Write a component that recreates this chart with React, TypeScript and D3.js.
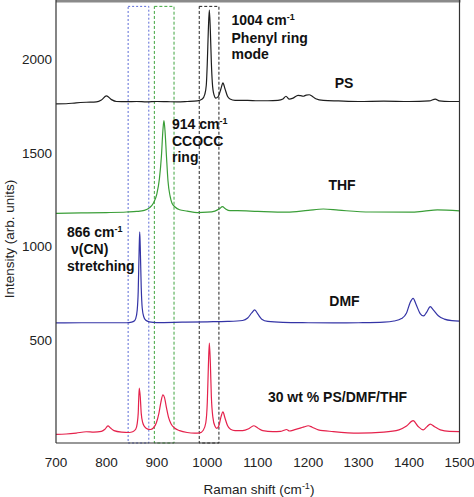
import React from "react";
import * as d3 from "d3";

// Raman shift (cm-1), intensity (arb. units, stacked as plotted)
const PS: [number, number][] = [
  [700, 1759], [720, 1760], [740, 1765], [760, 1768], [780, 1770], [790, 1780], [800, 1802], [810, 1782],
  [820, 1772], [840, 1771], [860, 1772], [880, 1770], [900, 1772], [920, 1771], [940, 1770], [960, 1772],
  [980, 1775], [990, 1785], [995, 1810], [998, 1860], [1000, 1980], [1002, 2150], [1004, 2260], [1006, 2150],
  [1008, 1980], [1010, 1870], [1013, 1810], [1017, 1790], [1022, 1800], [1027, 1840], [1031, 1871], [1035, 1840],
  [1040, 1800], [1045, 1785], [1055, 1778], [1080, 1778], [1100, 1776], [1120, 1776], [1140, 1778], [1150, 1785],
  [1156, 1800], [1162, 1785], [1170, 1790], [1180, 1805], [1185, 1803], [1190, 1800], [1196, 1806], [1202, 1808],
  [1208, 1800], [1215, 1787], [1230, 1778], [1260, 1775], [1300, 1772], [1350, 1774], [1400, 1772], [1440, 1775],
  [1452, 1785], [1460, 1775], [1480, 1772], [1500, 1772],
];

const THF: [number, number][] = [
  [700, 1176], [750, 1178], [800, 1180], [840, 1183], [860, 1186], [875, 1192], [885, 1205], [893, 1230],
  [900, 1280], [905, 1360], [909, 1480], [912, 1620], [914, 1670], [916, 1620], [919, 1480], [922, 1350],
  [926, 1270], [930, 1230], [936, 1210], [945, 1195], [960, 1188], [980, 1180], [1000, 1182], [1015, 1188],
  [1024, 1200], [1030, 1212], [1036, 1200], [1045, 1190], [1060, 1190], [1100, 1186], [1158, 1182], [1200, 1192],
  [1230, 1199], [1260, 1193], [1323, 1183], [1403, 1182], [1430, 1188], [1456, 1194], [1500, 1189],
];

const DMF: [number, number][] = [
  [700, 592], [750, 593], [800, 593], [840, 593], [850, 596], [855, 602], [858, 615], [861, 660],
  [863, 760], [865, 1000], [866, 1078], [867, 1000], [869, 780], [871, 670], [874, 625], [878, 606],
  [885, 598], [900, 594], [950, 596], [1000, 598], [1040, 600], [1070, 605], [1080, 618], [1088, 645],
  [1094, 661], [1100, 640], [1108, 612], [1120, 600], [1150, 595], [1200, 593], [1250, 592], [1300, 593],
  [1350, 596], [1370, 602], [1385, 615], [1395, 645], [1402, 700], [1408, 723], [1414, 690], [1422, 642],
  [1429, 629], [1435, 650], [1442, 679], [1448, 662], [1458, 630], [1470, 612], [1485, 604], [1500, 602],
];

const MIX: [number, number][] = [
  [700, -2], [720, 0], [740, 5], [760, 12], [775, 10], [790, 14], [797, 25], [803, 43],
  [808, 32], [815, 18], [830, 10], [845, 8], [852, 12], [858, 25], [861, 55], [863, 110],
  [865, 245], [867, 200], [869, 110], [872, 60], [876, 38], [882, 26], [887, 24], [893, 32],
  [899, 60], [904, 110], [908, 170], [912, 208], [915, 195], [919, 140], [923, 90], [928, 55],
  [935, 32], [945, 18], [960, 8], [975, 5], [985, 6], [992, 20], [997, 60], [1000, 170],
  [1002, 350], [1004, 485], [1006, 380], [1008, 200], [1011, 90], [1015, 42], [1019, 30], [1023, 45],
  [1027, 90], [1031, 118], [1035, 85], [1040, 45], [1046, 25], [1055, 18], [1070, 18], [1082, 28],
  [1092, 44], [1100, 32], [1110, 18], [1130, 13], [1145, 14], [1152, 20], [1157, 24], [1163, 16],
  [1172, 22], [1184, 31], [1192, 38], [1200, 44], [1208, 36], [1220, 22], [1250, 13], [1300, 5],
  [1350, 10], [1380, 22], [1395, 42], [1408, 71], [1418, 40], [1428, 22], [1435, 38], [1442, 53],
  [1450, 40], [1462, 22], [1480, 14], [1500, 13],
];

const xTicks = [700, 800, 900, 1000, 1100, 1200, 1300, 1400, 1500];
const yTicks = [500, 1000, 1500, 2000];
// highlighted regions (cm-1)
const boxRanges: [number, number][] = [[843, 884], [895, 934], [984, 1023]];
const boxTop = 2279;

const W = 474, H = 497;
const L = 56, R = 459.5, T = 0, B = 443;
const FONT = "'Liberation Sans', Arial, Helvetica, sans-serif";

export default function App() {
  const x = d3.scaleLinear().domain([700, 1500]).range([L, R]);
  const y = d3.scaleLinear().domain([-48, 2313]).range([B, T]);
  const line = d3
    .line<[number, number]>()
    .x((d) => x(d[0]))
    .y((d) => y(d[1]))
    .curve(d3.curveMonotoneX);

  const series = [
    { data: PS, color: "#1e1e1e" },
    { data: THF, color: "#3a9e38" },
    { data: DMF, color: "#3434a6" },
    { data: MIX, color: "#e5224c" },
  ];
  const boxStyles = [
    { color: "#5a6ad6", dash: "2,2" },
    { color: "#3fa53f", dash: "3,2" },
    { color: "#222", dash: "3,2" },
  ];

  const sup = (t: string) => (
    <tspan fontSize={9} dy={-5}>{t}</tspan>
  );

  return (
    <svg
      width={W}
      height={H}
      style={{ position: "absolute", left: 0, top: 0, background: "#fff" }}
      fontFamily={FONT}
    >
      <rect x={0} y={0} width={W} height={H} fill="#fff" />
      {boxRanges.map((r, i) => (
        <rect
          key={i}
          x={x(r[0])}
          y={y(boxTop)}
          width={x(r[1]) - x(r[0])}
          height={B - y(boxTop)}
          fill="none"
          stroke={boxStyles[i].color}
          strokeWidth={1}
          strokeDasharray={boxStyles[i].dash}
        />
      ))}
      {series.map((s, i) => (
        <path key={i} d={line(s.data) || ""} fill="none" stroke={s.color} strokeWidth={1.2} />
      ))}
      {/* frame */}
      <rect x={L} y={0} width={R - L + 1} height={2.5} fill="#8a8a8a" />
      <line x1={L} x2={L} y1={0} y2={B} stroke="#333" strokeWidth={1.2} />
      <line x1={R} x2={R} y1={0} y2={B} stroke="#333" strokeWidth={1.2} />
      <line x1={L} x2={R} y1={B} y2={B} stroke="#333" strokeWidth={1.2} />

      {xTicks.map((t) => (
        <text key={t} x={x(t)} y={466.5} textAnchor="middle" fontSize={13.5} fill="#222">
          {t}
        </text>
      ))}
      {yTicks.map((t) => (
        <text key={t} x={52} y={y(t) + 5} textAnchor="end" fontSize={13.5} fill="#222">
          {t}
        </text>
      ))}
      <text x={259} y={494} textAnchor="middle" fontSize={13.5} fill="#222">
        Raman shift (cm{sup("-1")}<tspan dy={5}>)</tspan>
      </text>
      <text
        transform="translate(14,239) rotate(-90)"
        textAnchor="middle"
        fontSize={13.5}
        fill="#222"
      >
        Intensity (arb. units)
      </text>

      <g fontWeight="bold" fontSize={14} fill="#111">
        <text x={344} y={88} textAnchor="middle">PS</text>
        <text x={342} y={190} textAnchor="middle">THF</text>
        <text x={344.5} y={305.5} textAnchor="middle">DMF</text>
        <text x={337.5} y={402} textAnchor="middle">30 wt % PS/DMF/THF</text>

        <text x={231.5} y={25}>1004 cm{sup("-1")}</text>
        <text x={231.5} y={43}>Phenyl ring</text>
        <text x={231.5} y={59}>mode</text>

        <text x={172} y={129}>914 cm{sup("-1")}</text>
        <text x={172} y={146}>CCOCC</text>
        <text x={172} y={162}>ring</text>

        <text x={67} y={237}>866 cm{sup("-1")}</text>
        <text x={71} y={254}>ν(CN)</text>
        <text x={67} y={271}>stretching</text>
      </g>
    </svg>
  );
}
